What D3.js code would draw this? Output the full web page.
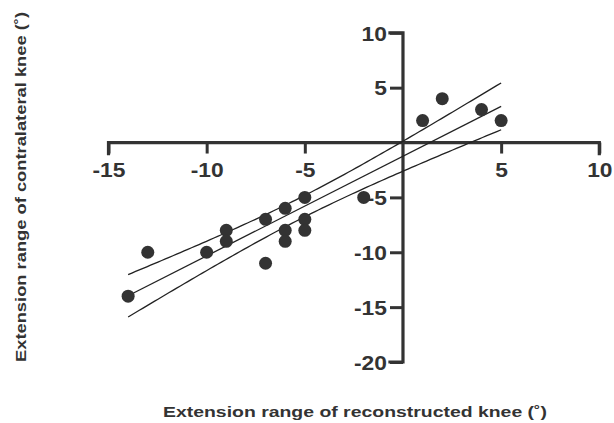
<!DOCTYPE html>
<html>
<head>
<meta charset="utf-8">
<script src="https://cdn.jsdelivr.net/npm/d3@7"></script>
<style>
  html, body { margin: 0; padding: 0; background: #fff; }
  svg { display: block; }
  text { font-family: "Liberation Sans", Arial, Helvetica, sans-serif; fill: #333; }
</style>
</head>
<body>
<svg id="chart" width="614" height="423"></svg>
<script>
// Data
const reconstructed = [-14, -13, -10, -9, -9, -7, -7, -6, -6, -6, -5, -5, -5, -2, 1, 2, 4, 5];
const contralateral = [-14, -10, -10, -8, -9, -7, -11, -6, -8, -9, -5, -7, -8, -5, 2, 4, 3, 2];
const xTickValues = [-15, -10, -5, 5, 10];
const yTickValues = [10, 5, -5, -10, -15, -20];
const xDomain = [-15, 10];
const yDomain = [-20, 10];
const tCritical = 2.12; // t(0.975, df = 16) for 95% confidence band
const xTitle = "Extension range of reconstructed knee (˚)";
const yTitle = "Extension range of contralateral knee (˚)";

const svg = d3.select("#chart");
const ink = "#333";

const x = d3.scaleLinear().domain(xDomain).range([108.5, 599.3]);
const y = d3.scaleLinear().domain(yDomain).range([362, 32.8]);

// Linear regression and 95% confidence band
const pts = reconstructed.map((v, i) => [v, contralateral[i]]);
const n = pts.length;
const mx = d3.mean(pts, d => d[0]);
const my = d3.mean(pts, d => d[1]);
const sxx = d3.sum(pts, d => (d[0] - mx) ** 2);
const sxy = d3.sum(pts, d => (d[0] - mx) * (d[1] - my));
const slope = sxy / sxx;
const intercept = my - slope * mx;
const ssRes = d3.sum(pts, d => (d[1] - (intercept + slope * d[0])) ** 2);
const se = Math.sqrt(ssRes / (n - 2));
const [xmin, xmax] = d3.extent(reconstructed);
const grid = d3.range(0, 101).map(i => xmin + (xmax - xmin) * i / 100);
const fit = v => intercept + slope * v;
const half = v => tCritical * se * Math.sqrt(1 / n + (v - mx) ** 2 / sxx);

const line = d3.line().x(d => x(d[0])).y(d => y(d[1]));

// Axes
const fmt = d => String(d);
const xAxis = d3.axisBottom(x).tickValues(xTickValues).tickSize(11).tickSizeOuter(0).tickPadding(9).tickFormat(fmt);
const yAxis = d3.axisLeft(y).tickValues(yTickValues).tickSize(13).tickSizeOuter(0).tickPadding(3).tickFormat(fmt);

const gx = svg.append("g").attr("transform", `translate(0,${y(0)})`).call(xAxis);
const gy = svg.append("g").attr("transform", `translate(${x(0)},0)`).call(yAxis);

[gx, gy].forEach(g => {
  g.select(".domain").attr("stroke", ink).attr("stroke-width", 3.2).attr("stroke-linecap", "square");
  g.selectAll(".tick line").attr("stroke", ink).attr("stroke-width", 3);
  g.selectAll(".tick text")
    .attr("fill", ink)
    .style("font-family", '"Liberation Sans", Arial, sans-serif')
    .style("font-weight", "bold")
    .style("font-size", "20px")
    .each(function () {
      const w = this.getComputedTextLength();
      d3.select(this).attr("textLength", w * 1.14).attr("lengthAdjust", "spacingAndGlyphs");
    });
});
gx.select(".domain").attr("d", `M${x(xDomain[0])},${11}V0H${x(xDomain[1])}V${11}`);
gy.select(".domain").attr("d", `M${-13},${y(yDomain[1])}H0V${y(yDomain[0])}H${-13}`);
gy.selectAll(".tick text").attr("dy", "0.36em");

// Regression line and confidence band
const lineStyle = g => g.attr("fill", "none").attr("stroke", "#222").attr("stroke-width", 1.3);
svg.append("path").datum(grid.map(v => [v, fit(v) + half(v)])).attr("d", line).call(lineStyle);
svg.append("path").datum(grid.map(v => [v, fit(v) - half(v)])).attr("d", line).call(lineStyle);
svg.append("path").datum([[xmin, fit(xmin)], [xmax, fit(xmax)]]).attr("d", line).call(lineStyle);

// Points
svg.append("g").selectAll("circle").data(pts).join("circle")
  .attr("cx", d => x(d[0]))
  .attr("cy", d => y(d[1]))
  .attr("r", 6.5)
  .attr("fill", ink);

// Titles
svg.append("text")
  .attr("x", 355).attr("y", 417)
  .attr("text-anchor", "middle")
  .attr("textLength", 384).attr("lengthAdjust", "spacingAndGlyphs")
  .style("font-weight", "bold").style("font-size", "15.5px")
  .text(xTitle);

svg.append("text")
  .attr("transform", "translate(26,187) rotate(-90)")
  .attr("text-anchor", "middle")
  .attr("textLength", 350).attr("lengthAdjust", "spacingAndGlyphs")
  .style("font-weight", "bold").style("font-size", "15.5px")
  .text(yTitle);
</script>
</body>
</html>
